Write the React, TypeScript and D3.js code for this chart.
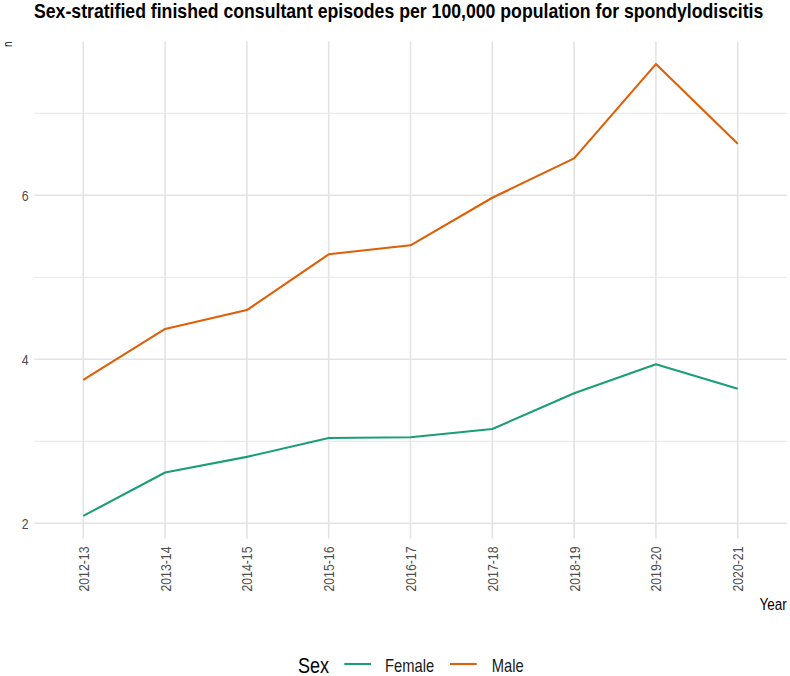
import React, { useEffect, useRef } from "react";
import * as d3 from "d3";

const years = ["2012-13", "2013-14", "2014-15", "2015-16", "2016-17", "2017-18", "2018-19", "2019-20", "2020-21"];
const female = [2.09, 2.62, 2.81, 3.04, 3.05, 3.15, 3.585, 3.94, 3.64];
const male = [3.75, 4.37, 4.6, 5.28, 5.39, 5.97, 6.45, 7.6, 6.63];
const yMajor = [2, 4, 6];
const yMinor = [3, 5, 7];
const seriesNames = ["Female", "Male"];
const seriesColors = ["#1b9e77", "#de5f06"];

const W = 790;
const H = 676;
const FONT = "'Liberation Sans', Arial, sans-serif";
const NARROW = 0.82;

export default function App() {
  const ref = useRef<SVGSVGElement>(null);

  useEffect(() => {
    const svg = d3.select(ref.current);
    svg.selectAll("*").remove();

    const left = 34.2, right = 786.8, top = 41.5, bottom = 538.5;

    const x = d3.scalePoint<string>().domain(years).range([left, right]).padding(0.6);
    const all = female.concat(male);
    const lo = d3.min(all)!, hi = d3.max(all)!;
    const pad = (hi - lo) * 0.05;
    const y = d3.scaleLinear().domain([lo - pad, hi + pad]).range([bottom, top]);

    const g = svg.append("g");
    g.selectAll("line.minor").data(yMinor).join("line")
      .attr("x1", left).attr("x2", right)
      .attr("y1", (d) => y(d)).attr("y2", (d) => y(d))
      .attr("stroke", "#ebebeb").attr("stroke-width", 1.2);
    g.selectAll("line.majy").data(yMajor).join("line")
      .attr("x1", left).attr("x2", right)
      .attr("y1", (d) => y(d)).attr("y2", (d) => y(d))
      .attr("stroke", "#e3e3e3").attr("stroke-width", 1.6);
    g.selectAll("line.majx").data(years).join("line")
      .attr("x1", (d) => x(d)!).attr("x2", (d) => x(d)!)
      .attr("y1", top).attr("y2", bottom)
      .attr("stroke", "#e3e3e3").attr("stroke-width", 1.6);

    // y tick labels
    svg.append("g").selectAll("text").data(yMajor).join("text")
      .attr("transform", (d) => `translate(28.5,${y(d)}) scale(${NARROW},1)`)
      .attr("dy", "0.36em")
      .attr("text-anchor", "end")
      .attr("font-family", FONT).attr("font-size", 15)
      .attr("fill", "#4d4d4d")
      .text((d) => String(d));

    // x tick labels
    svg.append("g").selectAll("text").data(years).join("text")
      .attr("transform", (d) => `translate(${x(d)! + 5.5},546.5) rotate(-90) scale(${NARROW},1)`)
      .attr("text-anchor", "end")
      .attr("font-family", FONT).attr("font-size", 15)
      .attr("fill", "#4d4d4d")
      .text((d) => d);

    // lines
    const line = d3.line<number>().x((_, i) => x(years[i])!).y((d) => y(d));
    [female, male].forEach((s, i) => {
      svg.append("path").datum(s)
        .attr("d", line)
        .attr("fill", "none")
        .attr("stroke", seriesColors[i])
        .attr("stroke-width", 2.1)
        .attr("stroke-linejoin", "round");
    });

    // title, condensed to the reference's width
    const title = svg.append("text")
      .attr("font-family", FONT).attr("font-size", 20).attr("font-weight", "bold")
      .attr("fill", "#000")
      .text("Sex-stratified finished consultant episodes per 100,000 population for spondylodiscitis");
    const tw = (title.node() as SVGTextElement).getComputedTextLength() || 824;
    const sx = Math.min(1, 730 / tw);
    title.attr("transform", `translate(34,17.5) scale(${sx},1)`);

    // axis titles
    svg.append("text")
      .attr("transform", `translate(11.5,${top}) rotate(-90) scale(${NARROW},1)`)
      .attr("text-anchor", "end")
      .attr("font-family", FONT).attr("font-size", 12)
      .attr("fill", "#000")
      .text("n");
    svg.append("text")
      .attr("transform", `translate(${right},610) scale(${NARROW},1)`)
      .attr("text-anchor", "end")
      .attr("font-family", FONT).attr("font-size", 16.5)
      .attr("fill", "#000")
      .text("Year");

    // legend
    const lg = svg.append("g");
    lg.append("text")
      .attr("transform", `translate(298,672.5) scale(${NARROW},1)`)
      .attr("font-family", FONT).attr("font-size", 22)
      .attr("fill", "#000")
      .text("Sex");
    const keyX = [344.3, 450];
    const labX = [385, 491.7];
    seriesNames.forEach((n, i) => {
      lg.append("line")
        .attr("x1", keyX[i]).attr("x2", keyX[i] + 26.7)
        .attr("y1", 664).attr("y2", 664)
        .attr("stroke", seriesColors[i]).attr("stroke-width", 2.1);
      lg.append("text")
        .attr("transform", `translate(${labX[i]},671.5) scale(${NARROW},1)`)
        .attr("font-family", FONT).attr("font-size", 18)
        .attr("fill", "#1a1a1a")
        .text(n);
    });
  }, []);

  return (
    <svg
      ref={ref}
      width={W}
      height={H}
      style={{ position: "absolute", left: 0, top: 0, background: "#fff" }}
    />
  );
}
